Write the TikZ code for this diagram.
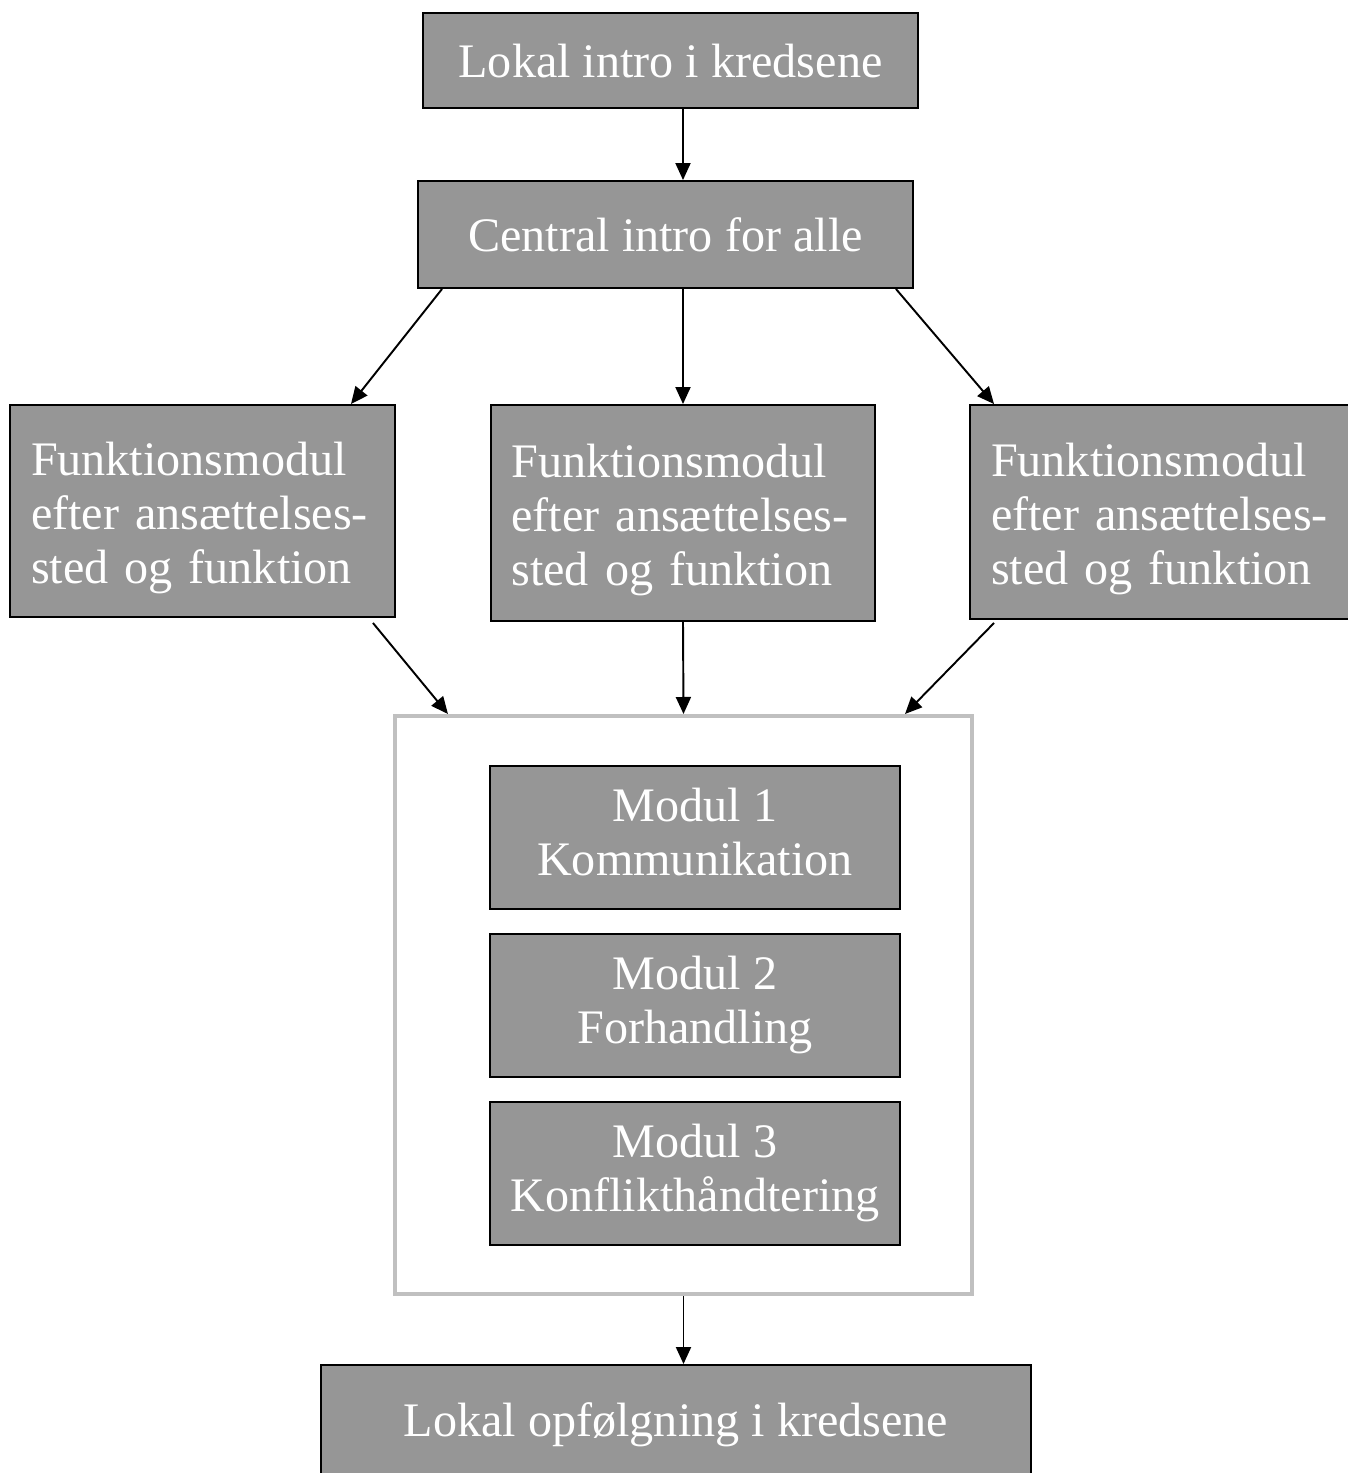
\documentclass[tikz,border=0pt]{standalone}
\usepackage{fontspec}
\setmainfont{Liberation Serif}
\usepackage{tikz}
\usetikzlibrary{calc,arrows.meta}
\definecolor{boxgray}{RGB}{150,150,150}
\definecolor{framegray}{RGB}{192,192,192}
\tikzstyle{graybox}=[rectangle,draw=black,fill=boxgray,line width=1.1pt,
                     text=white,font=\fontsize{27.4}{30.7}\selectfont,
                     align=center,inner sep=0pt,text depth=0pt]
\tikzstyle{funkbox}=[graybox,align=left,text width=6.86cm,text depth=59pt,
                     minimum width=7.7cm,minimum height=4.24cm]
\tikzstyle{modulbox}=[graybox,text depth=7pt,minimum width=8.2cm,minimum height=2.86cm]
\tikzstyle{pil}=[line width=1.1pt,-{Triangle[length=0.34cm,width=0.3cm]}]
\newcommand\funklabel{Funktionsmodul\\efter ansættelses-\\sted og funktion}
\newcommand\modullabel[2]{Modul #1\\#2}

\begin{document}
\begin{tikzpicture}
    \useasboundingbox (0,0) rectangle (26.96,-29.46);
    \clip (0,0) rectangle (26.96,-29.46);
    \node [graybox,minimum width=9.9cm,minimum height=1.9cm] (lokal) at (13.41,-1.21) {Lokal intro i kredsene};
    \node [graybox,minimum width=9.9cm,minimum height=2.14cm] (central) at (13.31,-4.69) {Central intro for alle};

    \node [funkbox] (funkA) at (4.05,-10.22) {\funklabel};
    \node [funkbox,minimum width=7.68cm,minimum height=4.32cm] (funkB) at (13.66,-10.26) {\funklabel};
    \node [funkbox,minimum height=4.28cm] (funkC) at (23.25,-10.24) {\funklabel};

    \node [rectangle,draw=framegray,line width=2.3pt,minimum width=11.54cm,
           minimum height=11.56cm] (kasse) at (13.67,-20.10) {};
    \node [modulbox] (modulA) at (13.9,-16.75) {\modullabel{1}{Kommunikation}};
    \node [modulbox] (modulB) at (13.9,-20.11) {\modullabel{2}{Forhandling}};
    \node [modulbox] (modulC) at (13.9,-23.47) {\modullabel{3}{Konflikthåndtering}};

    \node [graybox,minimum width=14.2cm,minimum height=2.2cm] (opf) at (13.52,-28.4) {Lokal opfølgning i kredsene};

    \draw [pil] (lokal.south -| funkB.north) -- (central.north -| funkB.north);
    \draw [pil] ($(central.south west)+(0.5,0)$) -- ($(funkA.north east)+(-0.9,0)$);
    \draw [pil] (central.south -| funkB.north) -- (funkB.north);
    \draw [pil] ($(central.south east)+(-0.36,0)$) -- ($(funkC.north west)+(0.5,0)$);
    \draw [pil] ($(funkA.south east)+(-0.46,-0.1)$) -- ($(kasse.north west)+(1.1,0)$);
    \draw [pil] (funkB.south) -- (kasse.north);
    \draw [pil] ($(funkC.south west)+(0.5,-0.06)$) -- ($(kasse.north east)+(-1.38,0)$);
    \draw [pil] (kasse.south) -- (kasse.south |- opf.north);
\end{tikzpicture}
\end{document}
